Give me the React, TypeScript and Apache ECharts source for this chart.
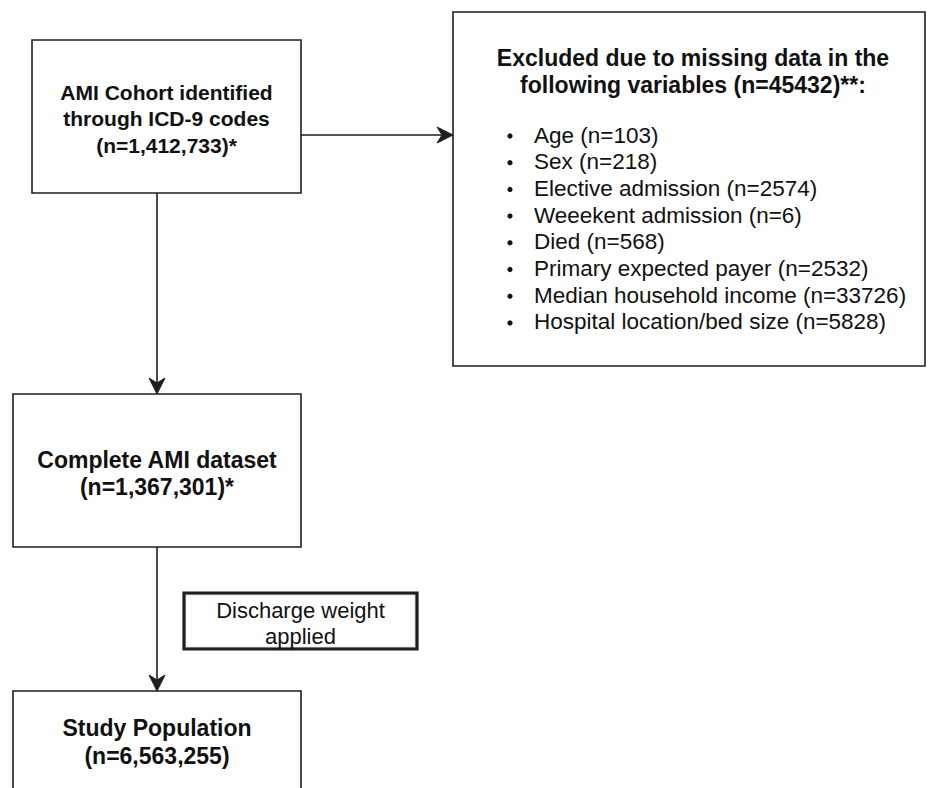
import React, { useEffect, useRef } from "react";
import * as echarts from "echarts";

// ---- Texts (data) ----
const cohortLines = ["AMI Cohort identified", "through ICD-9 codes", "(n=1,412,733)*"];
const exclusionTitle = ["Excluded due to missing data in the", "following variables (n=45432)**:"];
const exclusionItems = [
  "Age (n=103)",
  "Sex (n=218)",
  "Elective admission (n=2574)",
  "Weeekent admission (n=6)",
  "Died (n=568)",
  "Primary expected payer (n=2532)",
  "Median household income (n=33726)",
  "Hospital location/bed size (n=5828)",
];
const completeLines = ["Complete AMI dataset", "(n=1,367,301)*"];
const weightLines = ["Discharge weight", "applied"];
const studyLines = ["Study Population", "(n=6,563,255)"];

// ---- Layout ----
const FONT = '"Liberation Sans", Arial, Helvetica, sans-serif';
const STROKE = "#1e1e1e";
const TEXT = "#111111";

const box1 = { x: 32, y: 40, w: 269, h: 153, lines: [92, 118.5, 145], size: 21 };
const boxEx = { x: 453, y: 12, w: 472, h: 354 };
const box2 = { x: 13, y: 394, w: 288, h: 153, lines: [460, 487], size: 23 };
const box3 = { x: 13, y: 691, w: 288, h: 130, lines: [728, 756], size: 23 };
const boxW = { x: 184, y: 593, w: 233, h: 56, lines: [610, 636], size: 22 };
const stemX = 157;

function textEl(text: string, x: number, y: number, font: string, align = "center") {
  return {
    type: "text",
    z: 10,
    style: {
      text,
      x,
      y,
      font,
      fill: TEXT,
      align,
      verticalAlign: "middle",
      textAlign: align,
      textVerticalAlign: "middle",
    },
  };
}

function rectEl(b: { x: number; y: number; w: number; h: number }, lw = 1.6) {
  return {
    type: "rect",
    z: 1,
    shape: { x: b.x, y: b.y, width: b.w, height: b.h },
    style: { fill: "#ffffff", stroke: STROKE, lineWidth: lw },
  };
}

function lineEl(x1: number, y1: number, x2: number, y2: number) {
  return {
    type: "line",
    z: 2,
    shape: { x1, y1, x2, y2 },
    style: { stroke: STROKE, lineWidth: 1.6 },
  };
}

function arrowDown(x: number, tipY: number) {
  return {
    type: "polygon",
    z: 3,
    shape: { points: [[x, tipY], [x - 8, tipY - 16], [x, tipY - 11], [x + 8, tipY - 16]] },
    style: { fill: STROKE, stroke: STROKE, lineWidth: 1 },
  };
}

function arrowRight(tipX: number, y: number) {
  return {
    type: "polygon",
    z: 3,
    shape: { points: [[tipX, y], [tipX - 16, y - 8], [tipX - 11, y], [tipX - 16, y + 8]] },
    style: { fill: STROKE, stroke: STROKE, lineWidth: 1 },
  };
}

export default function App() {
  const ref = useRef<HTMLDivElement>(null);

  useEffect(() => {
    if (!ref.current) return;
    const chart = echarts.init(ref.current, undefined, { renderer: "svg" });

    const elements: any[] = [];

    // connectors
    elements.push(lineEl(box1.x + box1.w, 135, boxEx.x - 6, 135));
    elements.push(arrowRight(boxEx.x, 135));
    elements.push(lineEl(stemX, box1.y + box1.h, stemX, box2.y - 6));
    elements.push(arrowDown(stemX, box2.y));
    elements.push(lineEl(stemX, box2.y + box2.h, stemX, box3.y - 6));
    elements.push(arrowDown(stemX, box3.y));

    // box 1
    elements.push(rectEl(box1));
    cohortLines.forEach((t, i) =>
      elements.push(textEl(t, box1.x + box1.w / 2, box1.lines[i], `bold ${box1.size}px ${FONT}`))
    );

    // exclusion box
    elements.push(rectEl(boxEx));
    const titleY = [58, 85];
    exclusionTitle.forEach((t, i) =>
      elements.push(textEl(t, 693, titleY[i], `bold 23px ${FONT}`))
    );
    const itemTop = 135;
    const itemStep = 26.7;
    exclusionItems.forEach((t, i) => {
      const y = itemTop + i * itemStep;
      elements.push({
        type: "circle",
        z: 10,
        shape: { cx: 510, cy: y + 1, r: 2.6 },
        style: { fill: TEXT },
      });
      elements.push(textEl(t, 534, y, `22.5px ${FONT}`, "left"));
    });

    // box 2
    elements.push(rectEl(box2));
    completeLines.forEach((t, i) =>
      elements.push(textEl(t, box2.x + box2.w / 2, box2.lines[i], `bold ${box2.size}px ${FONT}`))
    );

    // discharge weight box (thick double-like border)
    elements.push(rectEl(boxW, 3.2));
    elements.push({
      type: "rect",
      z: 2,
      shape: { x: boxW.x + 1.6, y: boxW.y + 1.6, width: boxW.w - 3.2, height: boxW.h - 3.2 },
      style: { fill: "none", stroke: "#6a6a6a", lineWidth: 0.8 },
    });
    weightLines.forEach((t, i) =>
      elements.push(textEl(t, boxW.x + boxW.w / 2, boxW.lines[i], `${boxW.size}px ${FONT}`))
    );

    // box 3
    elements.push(rectEl(box3));
    studyLines.forEach((t, i) =>
      elements.push(textEl(t, box3.x + box3.w / 2, box3.lines[i], `bold ${box3.size}px ${FONT}`))
    );

    chart.setOption({
      animation: false,
      backgroundColor: "#ffffff",
      graphic: { elements },
    });

    return () => chart.dispose();
  }, []);

  return (
    <div
      ref={ref}
      style={{ position: "fixed", left: 0, top: 0, width: 928, height: 788, background: "#fff" }}
    />
  );
}
